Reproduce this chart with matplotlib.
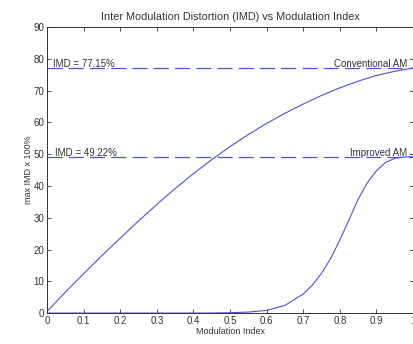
import matplotlib
matplotlib.use("Agg")
import matplotlib.pyplot as plt

conv_x = [0.0, 0.05, 0.1, 0.15, 0.2, 0.25, 0.3, 0.35, 0.4, 0.45, 0.5,
          0.55, 0.6, 0.65, 0.7, 0.75, 0.8, 0.85, 0.9, 0.95, 1.0]
imd_conv = [0.5, 6.6, 12.4, 18.1, 23.6, 29.0, 34.2, 39.2, 43.9, 48.3, 52.4,
            56.2, 59.7, 62.9, 65.8, 68.5, 70.9, 73.0, 74.8, 76.1, 77.15]
impr_x = [0.0, 0.1, 0.2, 0.3, 0.4, 0.45, 0.5, 0.55, 0.6, 0.65, 0.7, 0.725,
          0.75, 0.775, 0.8, 0.825, 0.85, 0.875, 0.9, 0.925, 0.95, 0.975, 1.0]
imd_impr = [0.0, 0.0, 0.0, 0.0, 0.0, 0.02, 0.1, 0.3, 0.85, 2.4, 6.0, 8.8,
            12.5, 17.2, 23.0, 29.3, 35.8, 41.0, 44.8, 47.4, 48.7, 49.1, 49.22]
max_conv = 77.15
max_impr = 49.22

plt.rcParams["font.family"] = ["Liberation Sans", "DejaVu Sans"]
plt.rcParams["font.size"] = 6.5

fig = plt.figure(figsize=(4.13, 3.44), dpi=100)
ax = fig.add_axes([0.114, 0.09, 0.886, 0.831])

c = "#5050d8"
ax.plot(conv_x, imd_conv, color=c, lw=0.8)
ax.plot(impr_x, imd_impr, color=c, lw=0.8)
ax.axhline(max_conv, color=c, lw=0.9, ls=(0, (12, 5)))
ax.axhline(max_impr, color=c, lw=0.9, ls=(0, (12, 5)))

ax.text(0.015, max_conv - 0.3, "IMD = %.2f%%" % max_conv, va="bottom", ha="left",
        fontsize=7, color="#333333")
ax.text(0.985, max_conv - 0.3, "Conventional AM", va="bottom", ha="right",
        fontsize=7, color="#333333")
ax.text(0.022, max_impr - 0.3, "IMD = %.2f%%" % max_impr, va="bottom", ha="left",
        fontsize=7, color="#333333")
ax.text(0.985, max_impr - 0.3, "Improved AM", va="bottom", ha="right",
        fontsize=7, color="#333333")

ax.set_xlim(0, 1)
ax.set_ylim(0, 90)
ax.set_xticks([i / 10 for i in range(11)])
ax.set_xticklabels(["0"] + ["%.1f" % (i / 10) for i in range(1, 10)] + ["1"])
ax.set_yticks(range(0, 91, 10))
ax.tick_params(direction="in", top=True, right=True, length=3, width=0.6,
               colors="#333333", labelsize=7, pad=2)
for s in ax.spines.values():
    s.set_linewidth(0.7)
    s.set_color("#333333")

ax.set_title("Inter Modulation Distortion (IMD) vs Modulation Index", pad=5,
             color="#333333")
ax.set_xlabel("Modulation Index", labelpad=1, color="#333333")
ax.set_ylabel("max IMD x 100%", labelpad=0, color="#333333")

fig.savefig("out.png", dpi=100)
